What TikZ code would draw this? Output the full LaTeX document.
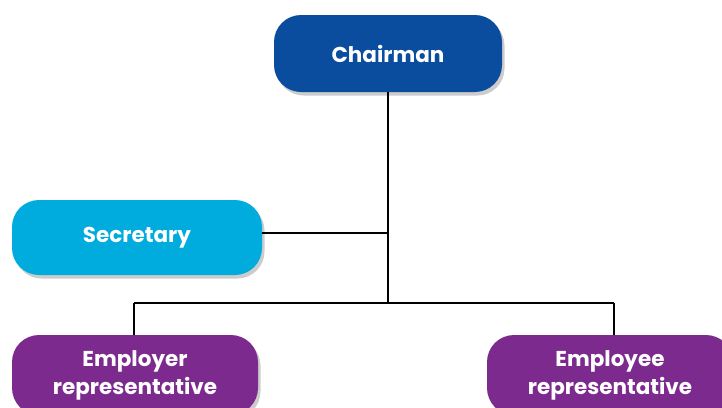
\documentclass[tikz,border=0pt]{standalone}
\usepackage{fontspec}
\setmainfont{Poppins}
\usetikzlibrary{shadows}
\definecolor{chairblue}{HTML}{0A4C9E}
\definecolor{seccyan}{HTML}{00ACDD}
\definecolor{reppurple}{HTML}{7D2A8E}
\tikzset{
  orgbox/.style={rounded corners=27pt, draw=none, text=white,
    font=\bfseries\fontsize{21.5}{28}\selectfont, align=center,
    drop shadow={shadow xshift=2.5pt, shadow yshift=-3.5pt, opacity=0.4}},
  link/.style={draw=black, line width=1.8pt}
}
\begin{document}
\begin{tikzpicture}[x=1pt,y=-1pt]
\useasboundingbox (0,0) rectangle (722,407);
\clip (0,0) rectangle (722,407);
\node[orgbox, fill=chairblue, minimum width=228pt, minimum height=77pt] (chair) at (388,53.5) {Chairman};
\node[orgbox, fill=seccyan, minimum width=250pt, minimum height=75pt] (sec) at (137,237.5) {Secretary};
\node[orgbox, fill=reppurple, minimum width=246pt, minimum height=80pt] (emp) at (135,375) {Employer\\representative};
\node[orgbox, fill=reppurple, minimum width=246pt, minimum height=80pt] (empl) at (610,375) {Employee\\representative};
\coordinate (junc) at (388,303);
\coordinate (secj) at (388,233);
\coordinate (left) at (134,303);
\coordinate (right) at (614,303);
\draw[link] (chair.south) -- (junc);
\draw[link] (sec.east |- secj) -- (secj);
\draw[link] (left) -- (right);
\draw[link] (left) -- (left |- emp.north);
\draw[link] (right) -- (right |- empl.north);
\end{tikzpicture}
\end{document}
